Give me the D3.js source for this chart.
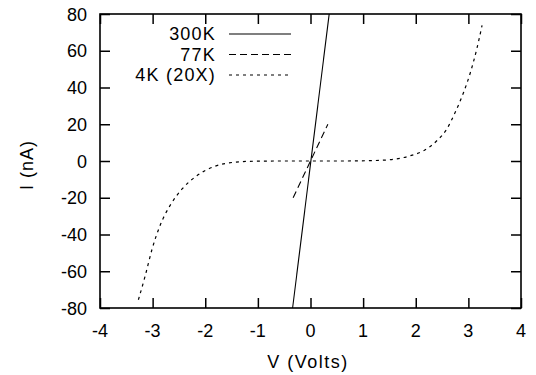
<!DOCTYPE html>
<html>
<head>
<meta charset="utf-8">
<script src="https://cdn.jsdelivr.net/npm/d3@7"></script>
<style>
  body { margin: 0; background: #fff; }
  svg text { font-family: "Liberation Sans", Arial, sans-serif; fill: #000; }
</style>
</head>
<body>
<svg id="chart" width="536" height="375"></svg>
<script>
// I-V curves
var seriesNames = ['300K', '77K', '4K (20X)'];

var v300 = [-0.34, 0.355];
var i300 = [-80, 80];

var v77 = [-0.33, 0.33];
var i77 = [-20, 20];

var v4 = [-3.27, -3.14, -3.01, -2.86, -2.67, -2.44, -2.16, -1.84, -1.46, -1.18, -0.6, 0, 0.6, 1.13, 1.52, 1.9, 2.15, 2.4, 2.59, 2.75, 2.91, 3.04, 3.16, 3.26];
var i4 = [-75.5, -62.4, -47.9, -35.2, -24.3, -15.2, -8.0, -3.1, -0.7, -0.2, 0, 0, 0, 0.2, 0.7, 2.9, 5.6, 11.0, 17.4, 26.5, 37.4, 48.3, 61, 73.8];

var xTicks = [-4, -3, -2, -1, 0, 1, 2, 3, 4];
var yTicks = [-80, -60, -40, -20, 0, 20, 40, 60, 80];

// plot box (window.top is taken, so other names)
var pLeft = 100, pRight = 521, pTop = 14, pBottom = 308;

var svg = d3.select('#chart');

var x = d3.scaleLinear().domain([-4, 4]).range([pLeft, pRight]);
var y = d3.scaleLinear().domain([-80, 80]).range([pBottom, pTop]);

var pairs = function(vs, is) {
    return vs.map(function(v, k) { return [v, is[k]]; });
};

var line = d3.line()
    .x(function(d) { return x(d[0]); })
    .y(function(d) { return y(d[1]); });

var smooth = d3.line()
    .x(function(d) { return x(d[0]); })
    .y(function(d) { return y(d[1]); })
    .curve(d3.curveMonotoneX);

var dashes = ['none', '7,4', '3,4'];

// curves
svg.append('path').attr('d', line(pairs(v300, i300)))
    .attr('fill', 'none').attr('stroke', '#000').attr('stroke-width', 1.1);
svg.append('path').attr('d', line(pairs(v77, i77)))
    .attr('fill', 'none').attr('stroke', '#000').attr('stroke-width', 1.1)
    .attr('stroke-dasharray', dashes[1]);
svg.append('path').attr('d', smooth(pairs(v4, i4)))
    .attr('fill', 'none').attr('stroke', '#000').attr('stroke-width', 1.2)
    .attr('stroke-dasharray', dashes[2]);

// axes, ticks pointing inward and mirrored
var tl = 10;
svg.append('g').attr('transform', 'translate(0,' + pBottom + ')')
    .call(d3.axisBottom(x).tickValues(xTicks).tickSize(-tl).tickFormat(''));
svg.append('g').attr('transform', 'translate(0,' + pTop + ')')
    .call(d3.axisTop(x).tickValues(xTicks).tickSize(-tl).tickFormat(''));
svg.append('g').attr('transform', 'translate(' + pLeft + ',0)')
    .call(d3.axisLeft(y).tickValues(yTicks).tickSize(-tl).tickFormat(''));
svg.append('g').attr('transform', 'translate(' + pRight + ',0)')
    .call(d3.axisRight(y).tickValues(yTicks).tickSize(-tl).tickFormat(''));
svg.selectAll('.domain').remove();
svg.selectAll('.tick line').attr('stroke', '#000').attr('stroke-width', 1.5);

svg.append('rect')
    .attr('x', pLeft).attr('y', pTop)
    .attr('width', pRight - pLeft).attr('height', pBottom - pTop)
    .attr('fill', 'none').attr('stroke', '#000').attr('stroke-width', 1.6);

// tick labels
svg.selectAll('.xlab').data(xTicks).enter().append('text')
    .attr('class', 'xlab')
    .attr('x', function(d) { return x(d); })
    .attr('y', 337)
    .attr('text-anchor', 'middle')
    .style('font-size', '18px')
    .text(function(d) { return d; });

svg.selectAll('.ylab').data(yTicks).enter().append('text')
    .attr('class', 'ylab')
    .attr('x', 87)
    .attr('y', function(d) { return y(d) + 6.5; })
    .attr('text-anchor', 'end')
    .style('font-size', '18px')
    .text(function(d) { return d; });

// axis titles
svg.append('text')
    .attr('x', 308).attr('y', 368)
    .attr('text-anchor', 'middle')
    .style('font-size', '18px').style('letter-spacing', '1.5px')
    .text('V (Volts)');

svg.append('text')
    .attr('transform', 'translate(33,165) rotate(-90)')
    .attr('text-anchor', 'middle')
    .style('font-size', '18px').style('letter-spacing', '1px')
    .text('I (nA)');

// legend
var legend = svg.selectAll('.leg').data(seriesNames).enter().append('g')
    .attr('class', 'leg')
    .attr('transform', function(d, k) { return 'translate(0,' + (40 + k * 20.5) + ')'; });

legend.append('text')
    .attr('x', 216).attr('y', 0)
    .attr('text-anchor', 'end')
    .style('font-size', '18px').style('letter-spacing', '1.2px')
    .text(function(d) { return d; });

legend.append('line')
    .attr('x1', 229).attr('x2', 291)
    .attr('y1', -6).attr('y2', -6)
    .attr('stroke', '#000').attr('stroke-width', 1.1)
    .attr('stroke-dasharray', function(d, k) { return dashes[k]; });
</script>
</body>
</html>
